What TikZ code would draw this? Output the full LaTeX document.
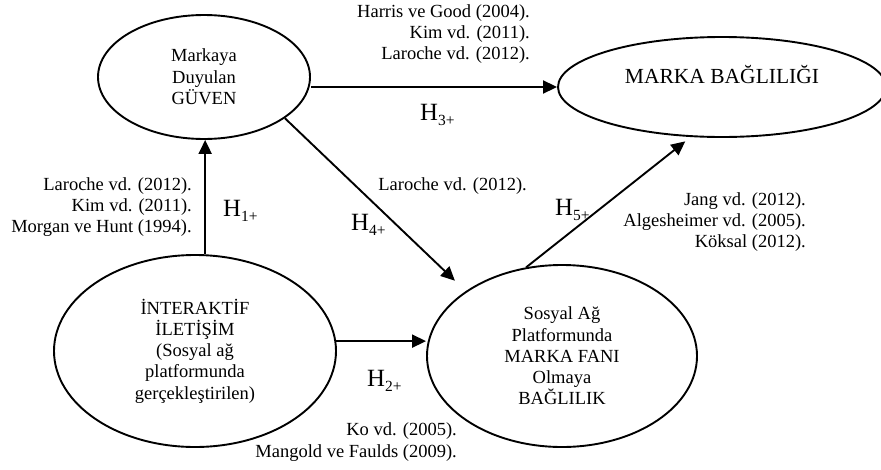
\documentclass[tikz,border=0pt]{standalone}
\usepackage{fontspec}
\setmainfont{Liberation Serif}
\usetikzlibrary{shapes.geometric,arrows.meta}
% hypothesis label: H with a lowered index
\newcommand\hyplabel[1]{H\raisebox{-5pt}{\fontsize{15.5}{16}\selectfont #1}}
\begin{document}
\begin{tikzpicture}[x=1pt,y=-1pt,
  construct/.style={ellipse,draw,line width=1.9pt,inner sep=0pt,align=center,
    font=\fontsize{18.5}{21.3}\selectfont},
  cite/.style={align=right,inner sep=0pt,font=\fontsize{18.5}{21.3}\selectfont},
  hyp/.style={inner sep=0pt,anchor=base west,font=\fontsize{24.8}{26}\selectfont},
  link/.style={line width=1.9pt,-{Triangle[length=14pt,width=13pt]}}]
\useasboundingbox (0,0) rectangle (881,469);
\fill[white] (0,0) rectangle (881,469);

% constructs
\node[construct,minimum width=212pt,minimum height=124pt] (g) at (204,77)
  {Markaya\\Duyulan\\GÜVEN};
\node[construct,minimum width=328pt,minimum height=100pt] (m) at (722,87) {};
\node[inner sep=0pt,font=\fontsize{21.5}{24}\selectfont] (mt) at (722,75) {MARKA BAĞLILIĞI};
\node[construct,minimum width=282pt,minimum height=192pt] (i) at (195,351)
  {İNTERAKTİF\\İLETİŞİM\\(Sosyal ağ\\platformunda\\gerçekleştirilen)};
\node[construct,minimum width=270pt,minimum height=182pt] (s) at (562,356)
  {Sosyal Ağ\\Platformunda\\MARKA FANI\\Olmaya\\BAĞLILIK};

% hypothesised paths
\draw[link] (i.84) -- (i.84 |- g.south);
\draw[link] (i.4) -- (i.4 -| s.west);
\draw[link] (m.west -| g.east) -- (m.west);
\draw[link,shorten >=15pt] (g.-27) -- (s.146);
\draw[link,shorten >=7pt] (s.112.6) -- (m.-122.5);

% hypothesis labels
\node[hyp] (h1) at (223,216) {\hyplabel{1+}};
\node[hyp] (h2) at (367,386) {\hyplabel{2+}};
\node[hyp] (h3) at (420,120) {\hyplabel{3+}};
\node[hyp] (h4) at (351,230) {\hyplabel{4+}};
\node[hyp] (h5) at (555,215) {\hyplabel{5+}};

% supporting literature
\node[cite,anchor=east] (c3) at (530,34) {Harris ve Good (2004).\\Kim vd. (2011).\\Laroche vd. (2012).};
\node[cite,anchor=east] (c1) at (192,207) {Laroche vd. (2012).\\Kim vd. (2011).\\Morgan ve Hunt (1994).};
\node[cite,anchor=east] (c4) at (527,186) {Laroche vd. (2012).};
\node[cite,anchor=east] (c5) at (806,222) {Jang vd. (2012).\\Algesheimer vd. (2005).\\Köksal (2012).};
\node[cite,anchor=east] (c2) at (457,442) {Ko vd. (2005).\\Mangold ve Faulds (2009).};
\end{tikzpicture}
\end{document}
